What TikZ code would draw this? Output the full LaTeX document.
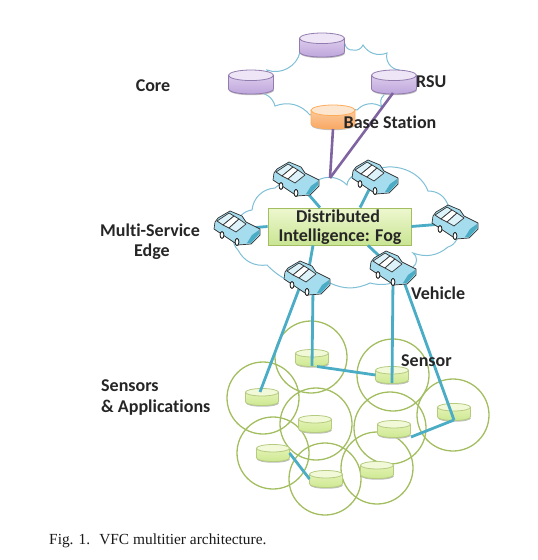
\documentclass[tikz,border=0pt]{standalone}
\usepackage{fontspec}
\setmainfont[Ligatures=NoCommon]{Carlito}
\newfontfamily\capfont{Liberation Serif}
\definecolor{cloudc}{HTML}{7FC0D6}
\definecolor{linkb}{HTML}{4BACC6}
\definecolor{linkp}{HTML}{8064A2}
\definecolor{ringg}{HTML}{A3BE60}
\newcommand\cylart[7]{% x y w h edge bodytop bodybottom/end
  \pgfmathsetmacro\xl{#1-#3/2}\pgfmathsetmacro\xr{#1+#3/2}
  \pgfmathsetmacro\ry{#4*0.22}\pgfmathsetmacro\yt{#2-#4/2+\ry}\pgfmathsetmacro\yb{#2+#4/2-\ry}
  \pgfmathsetmacro\yc{\yb+\ry*4/3}\pgfmathsetmacro\ys{\yb+1.5}\pgfmathsetmacro\ysc{\yc+1.5}
  \fill[black!25] (\xl,\ys) .. controls (\xl,\ysc) and (\xr,\ysc) .. (\xr,\ys) -- cycle;
  \path[draw=#5,line width=.8pt,top color=#6,bottom color=#7] (\xl,\yt) -- (\xl,\yb) .. controls (\xl,\yc) and (\xr,\yc) .. (\xr,\yb) -- (\xr,\yt) -- cycle;
}
\newcommand\cylpurple[3]{\node[cylbox,minimum width=45pt,minimum height=24pt] (#1) at (#2,#3) {};
  \cylart{#2}{#3}{45}{24}{linkp!85}{cpt}{cpb}{}\filldraw[fill=cpe,draw=linkp!85,line width=.8pt] (#2,\yt) ellipse (22.5 and \ry);}
\newcommand\cylsensor[3]{\node[cylbox,minimum width=33pt,minimum height=17pt] (#1) at (#2,#3) {};
  \cylart{#2}{#3}{33}{17}{ringg!80}{cst}{csb}{}\filldraw[fill=cse,draw=ringg!80,line width=.8pt] (#2,\yt) ellipse (16.5 and \ry);}
\definecolor{cpt}{HTML}{DCCBEC}\definecolor{cpb}{HTML}{BBA3DA}\definecolor{cpe}{HTML}{EEE6F6}
\definecolor{cst}{HTML}{E4F3B4}\definecolor{csb}{HTML}{CBE78F}\definecolor{cse}{HTML}{F2F9D8}
\definecolor{cot}{HTML}{FBC99A}\definecolor{cob}{HTML}{F9A45E}\definecolor{coe}{HTML}{FDE6D0}
\definecolor{fogt}{HTML}{EEF7D0}\definecolor{fogb}{HTML}{C9E593}
\definecolor{carb}{HTML}{A6DDEE}\definecolor{carr}{HTML}{DDF3F9}
\tikzset{
  cylbox/.style={inner sep=0pt,outer sep=0pt},
  ring/.style={circle,draw=ringg,line width=1.3pt,minimum size=72pt,inner sep=0pt},
  cloudline/.style={draw=cloudc,line width=1pt,fill=white},
  blink/.style={draw=linkb,line width=2.8pt},
  plink/.style={draw=linkp,line width=2.6pt},
  lab/.style={font=\bfseries\fontsize{18}{20}\selectfont,inner sep=0pt,text=black!85},
  carpt/.style={inner sep=0pt,minimum size=0pt},
  car/.pic={
    \begin{scope}[line width=.7pt,line join=round]
    \filldraw[fill=carb,draw=black!80] (-22,-7)--(-23,0)--(1,16)--(14,15)--(23,6)--(23,0)--(9,-7)--(5,-13)--(-7,-18)--(-19,-11)--cycle;
    \filldraw[fill=carr,draw=black!80] (-20,-8)--(-8,-16)--(-3,-13)--(-14,-4)--cycle;
    \filldraw[fill=white,draw=black!80] (-14,-4)--(-3,-13)--(2,-10)--(-8,-1)--cycle;
    \filldraw[fill=carr,draw=black!80] (-8,-1)--(2,-10)--(9,-5)--(-1,3)--cycle;
    \fill[linkb] (15,6)--(22,1)--(22,5)--(14,14)--(10,14)--cycle;
    \filldraw[fill=white,draw=black!85,line width=.9pt] (-15,6) ellipse (1.9 and 3.4);
    \filldraw[fill=white,draw=black!85,line width=.9pt] (0,13) ellipse (1.9 and 3.6);
    \end{scope}
  }
}
\begin{document}
\begin{tikzpicture}[x=1pt,y=-1pt]
\useasboundingbox (0,0) rectangle (538,560);
% clouds
\path[cloudline] (300,52) to[bend left=50] (267,70) to[bend left=60] (257,93) to[bend left=40] (275,106) to[bend left=35] (310,115) to[bend left=20] (357,110) to[bend left=40] (382,107) to[bend left=40] (384,95) to[bend left=30] (399,70) to[bend left=50] (387,53) to[bend left=40] (363,45) to[bend left=40] (353,50) to[bend left=45] (345,44) -- cycle;
\path[cloudline] (238,250) to[bend left=65] (252,210) to[bend left=40] (275,188) to[bend left=30] (318,180) to[bend left=35] (347,185) to[bend left=60] (367,175) to[bend left=55] (428,191) to[bend left=35] (448,205) to[bend left=75] (448,247) to[bend left=30] (413,253) to[bend left=60] (413,267) to[bend left=35] (370,283) to[bend left=25] (330,283) to[bend left=30] (267,265) to[bend left=35] cycle;
% rings
\foreach \n/\x/\y in {a/311/357,b/393/375,c/263/398,d/453/415,e/316/424,f/390/428,g/273/453,h/325/479,i/377/468}
  \node[ring] (r\n) at (\x,\y) {};
% cylinders
\cylpurple{core1}{322}{45}
\cylpurple{core2}{251}{82}
\cylpurple{rsu}{394}{82}
\node[cylbox,minimum width=44pt,minimum height=24pt] (bs) at (333,117) {};
\cylart{333}{117}{44}{24}{orange!65}{cot}{cob}{}\filldraw[fill=coe,draw=orange!65,line width=.8pt] (333,\yt) ellipse (22 and \ry);
\cylsensor{sa}{312}{358}
\cylsensor{sb}{392}{375}
\cylsensor{sc}{262}{397}
\cylsensor{sd}{454}{412}
\cylsensor{se}{315}{424}
\cylsensor{sf}{394}{429}
\cylsensor{sg}{273}{453}
\cylsensor{sh}{326}{479}
\cylsensor{si}{377}{470}
\node[carpt] (car1) at (296,180) {};
\node[carpt] (car2) at (375,178) {};
\node[carpt] (car3) at (237,229) {};
\node[carpt] (car4) at (455,223) {};
\node[carpt] (car5) at (307,279) {};
\node[carpt] (car6) at (393,269) {};
\coordinate (hub) at (330,178);
% connectors
\draw[plink] (bs.south) -- (hub);
\draw[plink] ([shift={(-1,-1)}]rsu.south) -- (hub);
\node[draw=ringg,line width=.8pt,top color=fogt,bottom color=fogb,minimum width=143pt,minimum height=37pt,inner sep=0pt] (fog) at (339.5,226.5) {};
\draw[blink] ([xshift=-19.5pt]fog.north) -- (car1);
\draw[blink] ([xshift=20.5pt]fog.north) -- (car2);
\draw[blink] (fog.west) -- (car3);
\draw[blink] (fog.east) -- (car4);
\draw[blink] ([xshift=-26.5pt]fog.south) -- (car5);
\draw[blink] ([xshift=28.5pt]fog.south) -- (car6);
\draw[blink] ([shift={(-8,10)}]car5.center) -- ([shift={(-2,-5)}]sc.center);
\draw[blink] ([shift={(6,10)}]car5.center) -- ([yshift=-8pt]sa.center);
\draw[blink] ([shift={(0,10)}]car6.center) -- ([yshift=-8pt]sb.center);
\draw[blink] ([shift={(10,10)}]car6.center) -- ([yshift=-8pt]sd.center);
\draw[blink] ([xshift=5pt]sa.south) -- (sb.west);
\draw[blink] ([shift={(17,8)}]sf.center) -- ([shift={(0,8)}]sd.center);
\draw[blink] (sg.east) -- (sh.west);
% cars
\foreach \n in {1,...,6} \pic at (car\n) {car};
% labels
\node[lab] at (153,86) {Core};
\node[lab] at (150,230) {Multi-Service};
\node[lab] at (152,252) {Edge};
\node[lab,anchor=west] at (101,386) {Sensors};
\node[lab,anchor=west] at (101,408) {\& Applications};
\node[lab,anchor=west] at (416,82) {RSU};
\node[lab] at (390,122) {Base Station};
\node[lab,anchor=west] at (411,293) {Vehicle};
\node[lab,anchor=west] at (401,361) {Sensor};
\node[lab] at (338,216) {Distributed};
\node[lab] at (340,237) {Intelligence: Fog};
\node[anchor=west,inner sep=0pt,font=\capfont\fontsize{15.4}{18}\selectfont,text=black!90] at (49,541) {Fig. 1.\hspace{9pt}VFC multitier architecture.};
\end{tikzpicture}
\end{document}
